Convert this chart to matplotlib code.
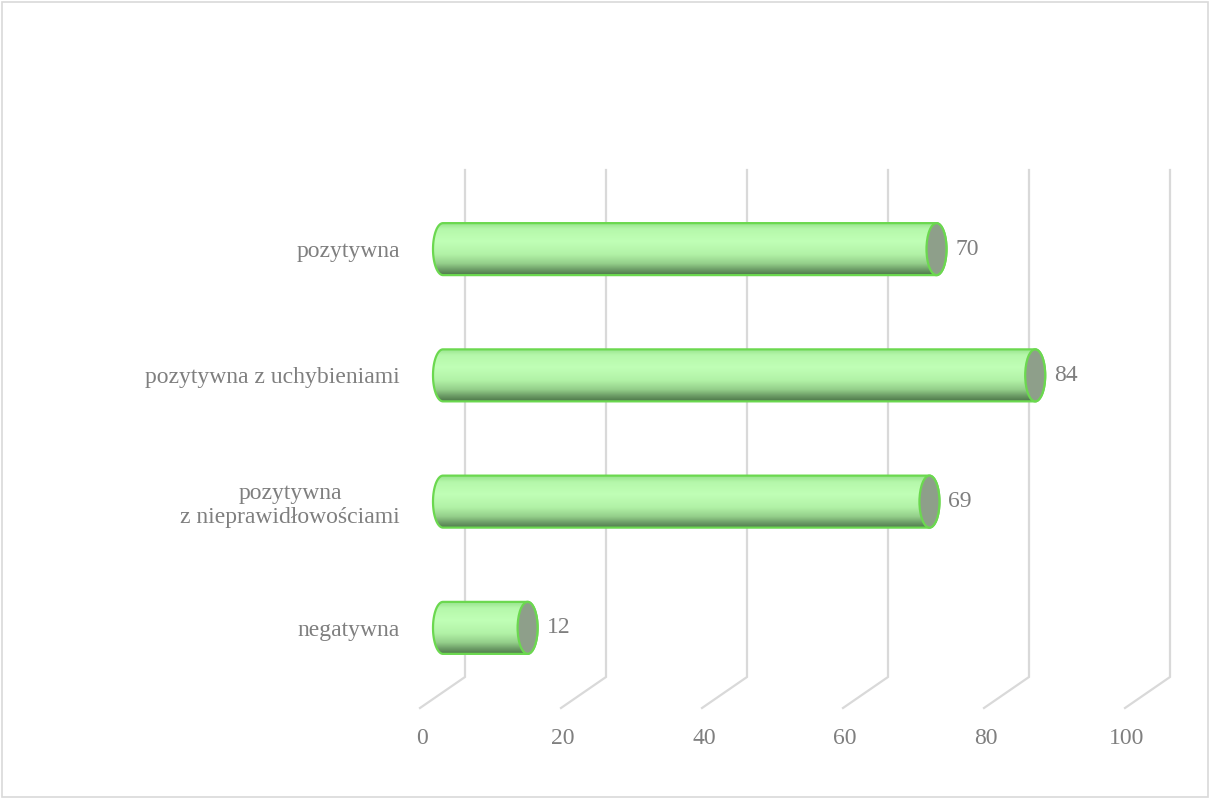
import numpy as np
import matplotlib
matplotlib.use('Agg')
import matplotlib.pyplot as plt
from matplotlib.patches import Polygon, Ellipse, Rectangle
from matplotlib.colors import LinearSegmentedColormap
import matplotlib.transforms as mtransforms

categories = ['pozytywna', 'pozytywna z uchybieniami',
              'pozytywna\nz nieprawidłowościami', 'negatywna']
values = [70, 84, 69, 12]
ticks = [0, 20, 40, 60, 80, 100]

grey = '#7f7f7f'
plt.rcParams['font.family'] = ['Liberation Serif', 'DejaVu Serif']

fig = plt.figure(figsize=(12.1, 7.99), dpi=100)
fig.patches.append(Rectangle((0.0015, 0.002), 0.997, 0.996, transform=fig.transFigure,
                             fill=False, edgecolor='#d9d9d9', lw=1.2))
# axes starts a bit left of zero so the rounded caps are not clipped
x0 = -5
left_px = 440 + x0 * 7.05
ax = fig.add_axes([left_px / 1210, 108 / 799, (1145 - left_px) / 1210, 505 / 799])

# pixel -> data unit sizes
ux = 100 / 705
uy = 4 / 505

# back wall grid lines with floor diagonal
for t in ticks:
    xs = [t + 25 * ux, t + 25 * ux, t - 20 * ux]
    ys = [3.5 + 16 * uy, 3.5 - 491 * uy, 3.5 - 522 * uy]
    ax.plot(xs, ys, color='#d9d9d9', lw=1.6, clip_on=False, zorder=1,
            solid_joinstyle='miter')

cmap = LinearSegmentedColormap.from_list('cyl', [
    (0.0, '#98e48e'), (0.12, '#b6f8ab'), (0.35, '#c0ffb6'), (0.6, '#b2f2a7'),
    (0.78, '#94cf8a'), (0.9, '#6c9c66'), (1.0, '#4d784a')])
grad = np.linspace(0, 1, 256).reshape(-1, 1)

h = 26 * uy
a = 10 * ux
off = 3 * ux  # cylinders sit slightly right of the floor zero
ypos = [3, 2, 1, 0]
for y, v in zip(ypos, values):
    th = np.linspace(np.pi / 2, -np.pi / 2, 60)
    right = np.column_stack([off + v + a * np.cos(th), y + h * np.sin(th)])
    th2 = np.linspace(-np.pi / 2, -3 * np.pi / 2, 60)
    left = np.column_stack([off + a * np.cos(th2), y + h * np.sin(th2)])
    pts = np.vstack([right, left])
    body = Polygon(pts, closed=True, facecolor='none', edgecolor='#6bd84f',
                   lw=1.6, zorder=4)
    ax.add_patch(body)
    im = ax.imshow(grad, cmap=cmap, aspect='auto', origin='upper',
                   extent=[off - a, off + v + a, y - h, y + h], zorder=3)
    im.set_clip_path(body)
    ax.add_patch(Ellipse((off + v, y), 2 * a, 2 * h, facecolor='#8e9f8a',
                         edgecolor='#6bd84f', lw=1.6, zorder=5))
    ax.text(off + v + a + 9 * ux, y, str(v), ha='left', va='center',
            fontsize=17, color=grey, zorder=6)

ax.set_xlim(x0, 100)
ax.set_ylim(-0.5, 3.5)
ax.set_yticks(ypos)
ax.set_yticklabels(categories, fontsize=17, color=grey, multialignment='center')
ax.tick_params(axis='y', length=0, pad=(left_px - 400) * 0.72)
ax.set_xticks(ticks)
ax.set_xticklabels([str(t) for t in ticks], fontsize=17, color=grey)
ax.tick_params(axis='x', length=0, pad=27)
shift = mtransforms.ScaledTranslation(-18 / 100, 0, fig.dpi_scale_trans)
for lab in ax.get_xticklabels():
    lab.set_transform(lab.get_transform() + shift)
for s in ax.spines.values():
    s.set_visible(False)
ax.patch.set_visible(False)

fig.savefig('out.png', dpi=100)
